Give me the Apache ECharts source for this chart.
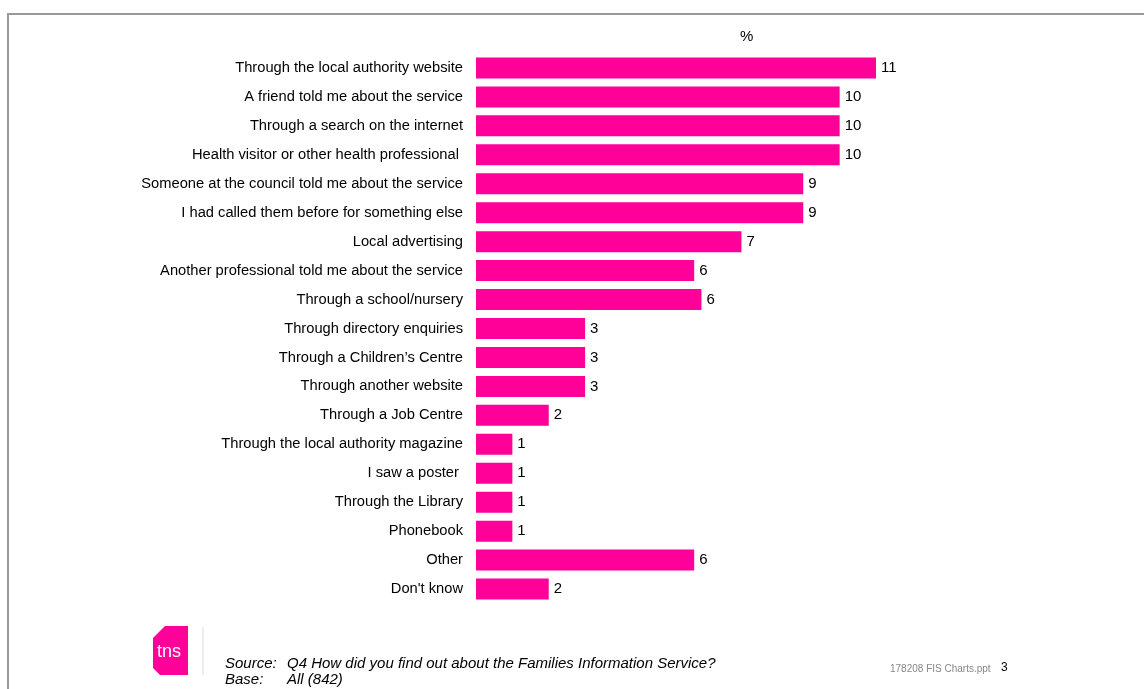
<!DOCTYPE html>
<html>
<head>
<meta charset="utf-8">
<script src="https://cdn.jsdelivr.net/npm/echarts@6/dist/echarts.min.js"></script>
<style>
html,body{margin:0;padding:0;background:#fff;}
#chart{width:1144px;height:689px;}
</style>
</head>
<body>
<div id="chart"></div>
<script>
const categories = [
  "Through the local authority website",
  "A friend told me about the service",
  "Through a search on the internet",
  "Health visitor or other health professional ",
  "Someone at the council told me about the service",
  "I had called them before for something else",
  "Local advertising",
  "Another professional told me about the service",
  "Through a school/nursery",
  "Through directory enquiries",
  "Through a Children\u2019s Centre",
  "Through another website",
  "Through a Job Centre",
  "Through the local authority magazine",
  "I saw a poster ",
  "Through the Library",
  "Phonebook",
  "Other",
  "Don't know"
];
const values = [11, 10, 10, 10, 9, 9, 7.3, 6, 6.2, 3, 3, 3, 2, 1, 1, 1, 1, 6, 2];
const unitLabel = "%";
const sourceText = "Q4 How did you find out about the Families Information Service?";
const baseText = "All (842)";
const fileText = "178208 FIS Charts.ppt";
const pageNo = "3";

const FONT = "Liberation Sans, Arial, sans-serif";
const PINK = "#FF0099";

const chart = echarts.init(document.getElementById('chart'), null, {renderer: 'canvas'});
chart.setOption({
  animation: false,
  backgroundColor: '#fff',
  grid: {left: 476, top: 53.5, right: 268, bottom: 85.5, containLabel: false},
  xAxis: {type: 'value', min: 0, max: 11, show: false},
  yAxis: {
    type: 'category', data: categories, inverse: true,
    axisLine: {show: false}, axisTick: {show: false}, splitLine: {show: false},
    axisLabel: {color: '#000', fontSize: 14.7, fontFamily: FONT, margin: 13, padding: [3, 0, 0, 0]}
  },
  series: [{
    type: 'bar', data: values, barWidth: 21,
    itemStyle: {color: PINK},
    label: {show: true, position: 'right', distance: 5, color: '#000', fontSize: 15, fontFamily: FONT,
      padding: [3, 0, 0, 0], formatter: p => Math.round(p.value)}
  }],
  graphic: [
    {type: 'rect', shape: {x: 8, y: 14, width: 1200, height: 700}, style: {fill: 'none', stroke: '#999', lineWidth: 2}, silent: true},
    {type: 'text', left: 740, top: 29, style: {text: unitLabel, fontSize: 15, fontFamily: FONT, fill: '#000'}},
    {type: 'polygon', shape: {points: [[165,626],[188,626],[188,675],[160,675],[153,668],[153,638]]}, style: {fill: PINK}},
    {type: 'line', shape: {x1: 203, y1: 627, x2: 203, y2: 675}, style: {stroke: '#ddd', lineWidth: 1}},
    {type: 'text', left: 157, top: 643, style: {text: 'tns', fontSize: 18, fontFamily: FONT, fill: '#fff'}},
    {type: 'text', left: 225, top: 656, style: {text: 'Source:', fontSize: 15, fontStyle: 'italic', fontFamily: FONT, fill: '#000'}},
    {type: 'text', left: 287, top: 656, style: {text: sourceText, fontSize: 15, fontStyle: 'italic', fontFamily: FONT, fill: '#000'}},
    {type: 'text', left: 225, top: 672, style: {text: 'Base:', fontSize: 15, fontStyle: 'italic', fontFamily: FONT, fill: '#000'}},
    {type: 'text', left: 287, top: 672, style: {text: baseText, fontSize: 15, fontStyle: 'italic', fontFamily: FONT, fill: '#000'}},
    {type: 'text', left: 890, top: 664, style: {text: fileText, fontSize: 10, fontFamily: FONT, fill: '#888'}},
    {type: 'text', left: 1001, top: 662, style: {text: pageNo, fontSize: 12, fontFamily: FONT, fill: '#000'}}
  ]
});
</script>
</body>
</html>
